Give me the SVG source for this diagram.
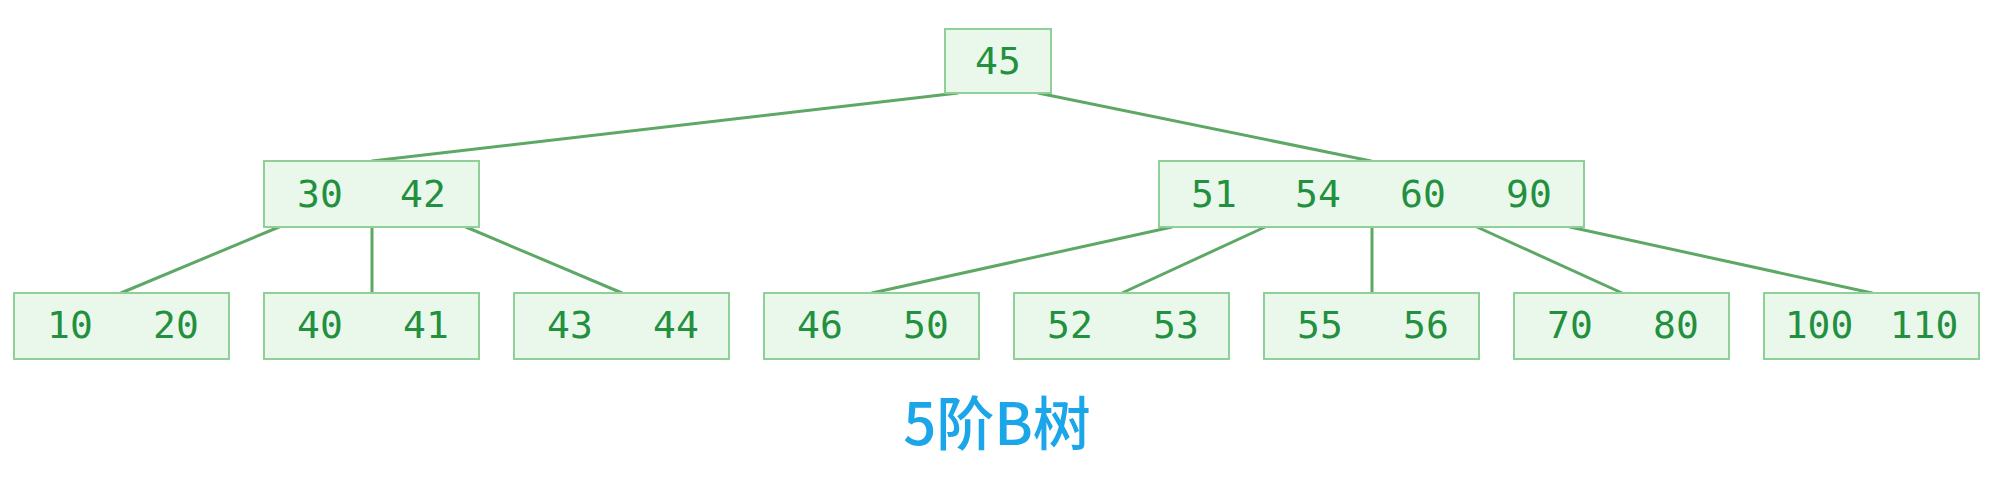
<svg xmlns="http://www.w3.org/2000/svg" width="2000" height="485" viewBox="0 0 2000 485">
<style>
.box{fill:#eaf8ec;stroke:#8fcf98;stroke-width:2}
.num{font-family:"DejaVu Sans Mono","Liberation Mono",monospace;font-size:38px;fill:#23903f;text-anchor:middle}
.edge{stroke:#5ea865;stroke-width:3;fill:none;stroke-linecap:round}
.title{font-family:"Noto Sans CJK SC","Noto Sans",sans-serif;font-size:58px;font-weight:500;fill:#1aa6e8;text-anchor:middle}
</style>
<rect width="2000" height="485" fill="#ffffff"/>
<g id="connectors">
<line class="edge" x1="958" y1="93" x2="372" y2="161"/>
<line class="edge" x1="1038" y1="93" x2="1371" y2="161"/>
<line class="edge" x1="279" y1="227" x2="121" y2="293"/>
<line class="edge" x1="372" y1="227" x2="372" y2="293"/>
<line class="edge" x1="466" y1="227" x2="622" y2="293"/>
<line class="edge" x1="1172" y1="227" x2="872" y2="293"/>
<line class="edge" x1="1265" y1="227" x2="1122" y2="293"/>
<line class="edge" x1="1372" y1="227" x2="1372" y2="293"/>
<line class="edge" x1="1477" y1="227" x2="1622" y2="293"/>
<line class="edge" x1="1570" y1="227" x2="1872" y2="293"/>
</g>
<g id="root">
<rect class="box" x="945" y="29" width="106" height="64"/>
<text class="num" x="998" y="74">45</text>
</g>
<g id="n30_42">
<rect class="box" x="264" y="161" width="215" height="66"/>
<text class="num" x="320" y="207">30</text>
<text class="num" x="423" y="207">42</text>
</g>
<g id="n51_90">
<rect class="box" x="1159" y="161" width="425" height="66"/>
<text class="num" x="1214" y="207">51</text>
<text class="num" x="1318" y="207">54</text>
<text class="num" x="1423" y="207">60</text>
<text class="num" x="1529" y="207">90</text>
</g>
<g id="leaf10_20">
<rect class="box" x="14" y="293" width="215" height="66"/>
<text class="num" x="70" y="338">10</text>
<text class="num" x="176" y="338">20</text>
</g>
<g id="leaf40_41">
<rect class="box" x="264" y="293" width="215" height="66"/>
<text class="num" x="320" y="338">40</text>
<text class="num" x="426" y="338">41</text>
</g>
<g id="leaf43_44">
<rect class="box" x="514" y="293" width="215" height="66"/>
<text class="num" x="570" y="338">43</text>
<text class="num" x="676" y="338">44</text>
</g>
<g id="leaf46_50">
<rect class="box" x="764" y="293" width="215" height="66"/>
<text class="num" x="820" y="338">46</text>
<text class="num" x="926" y="338">50</text>
</g>
<g id="leaf52_53">
<rect class="box" x="1014" y="293" width="215" height="66"/>
<text class="num" x="1070" y="338">52</text>
<text class="num" x="1176" y="338">53</text>
</g>
<g id="leaf55_56">
<rect class="box" x="1264" y="293" width="215" height="66"/>
<text class="num" x="1320" y="338">55</text>
<text class="num" x="1426" y="338">56</text>
</g>
<g id="leaf70_80">
<rect class="box" x="1514" y="293" width="215" height="66"/>
<text class="num" x="1570" y="338">70</text>
<text class="num" x="1676" y="338">80</text>
</g>
<g id="leaf100_110">
<rect class="box" x="1764" y="293" width="215" height="66"/>
<text class="num" x="1819" y="338">100</text>
<text class="num" x="1924" y="338">110</text>
</g>
<g id="title">
<text class="title" x="997" y="445">5阶B树</text>
</g>
</svg>
